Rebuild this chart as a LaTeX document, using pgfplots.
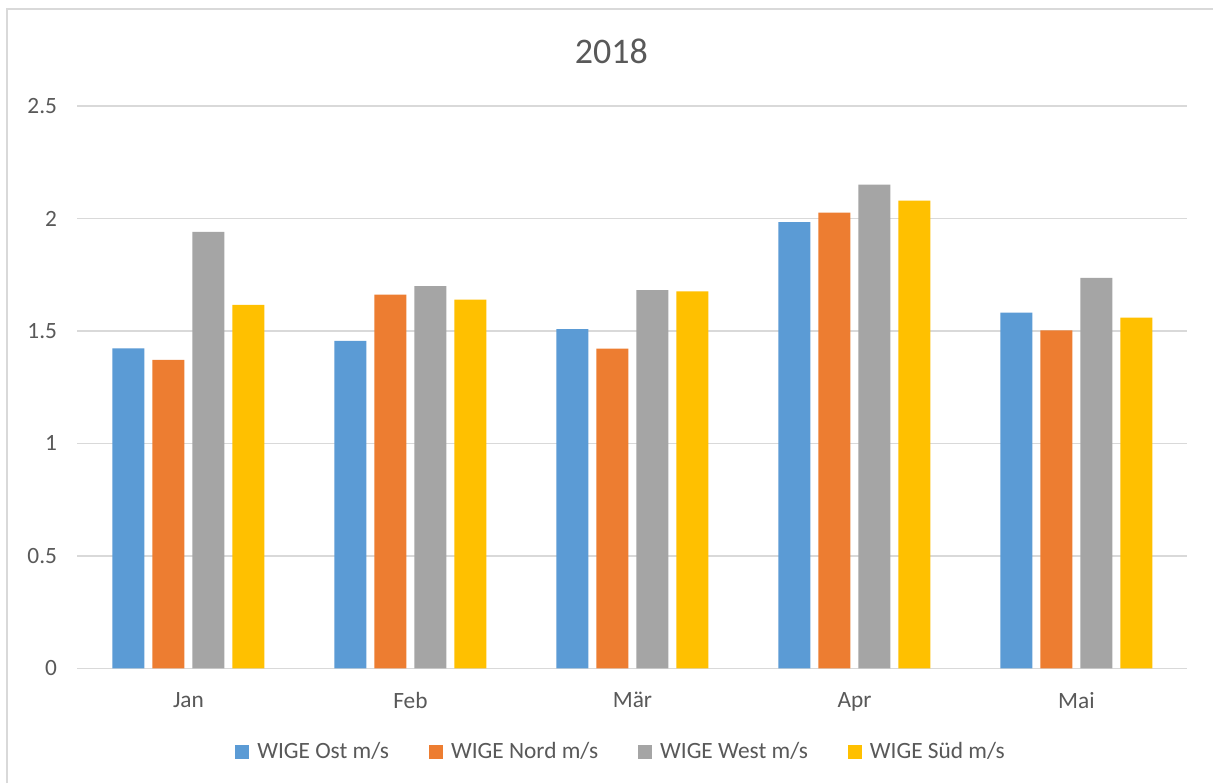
\documentclass[border=0pt]{standalone}
\usepackage{fontspec}
\setmainfont{Carlito}
\usepackage{pgfplots}
\pgfplotsset{compat=1.18}
\definecolor{cOst}{HTML}{5B9BD5}
\definecolor{cNord}{HTML}{ED7D31}
\definecolor{cWest}{HTML}{A5A5A5}
\definecolor{cSued}{HTML}{FFC000}
\definecolor{textc}{HTML}{595959}
\definecolor{gridc}{HTML}{D9D9D9}
\pgfplotsset{sq legend/.style={legend image code/.code={\fill[##1] (0pt,-5.25pt) rectangle (10.5pt,5.25pt);}}}
\begin{document}
\begin{tikzpicture}[x=1pt,y=1pt]
\useasboundingbox (0,0) rectangle (909.75,587.25);
\fill[white] (0,0) rectangle (909.75,587.25);
\draw[line width=1.2pt, color=gridc] (5.25,0) -- (5.25,580.5) -- (909.75,580.5);
\node[text=textc, font=\fontsize{27}{32}\selectfont] at (458.6,548.6) {2018};
\begin{axis}[
  at={(58.1pt,85.9pt)}, anchor=south west,
  scale only axis, width=832.5pt, height=421.9pt,
  xmin=-0.5, xmax=4.5, ymin=0, ymax=2.5,
  axis line style={draw=none},
  major tick length=0pt,
  ybar, bar width=24pt,
  xtick={0,1,2,3,4}, xticklabels={Jan,Feb,Mär,Apr,Mai},
  ytick={0,0.5,1,1.5,2,2.5}, yticklabels={0,0.5,1,1.5,2,2.5},
  ymajorgrids, grid style={color=gridc, line width=1pt},
  tick label style={text=textc, font=\fontsize{17.5}{21}\selectfont},
  y tick label style={anchor=east, xshift=-11.8pt},
  x tick label style={anchor=north, yshift=-14.5pt},
  legend columns=4,
  legend style={at={(0.49,-0.148)}, anchor=center, draw=none, fill=none,
    text=textc, font=\fontsize{17.5}{21}\selectfont,
    /tikz/every odd column/.append style={column sep=4pt},
    /tikz/every even column/.append style={column sep=28pt}},
]
\addplot[fill=cOst, draw=none, bar shift=-45pt, sq legend] coordinates {(0,1.423) (1,1.456) (2,1.508) (3,1.984) (4,1.581)};
\addplot[fill=cNord, draw=none, bar shift=-15pt, sq legend] coordinates {(0,1.371) (1,1.661) (2,1.421) (3,2.026) (4,1.503)};
\addplot[fill=cWest, draw=none, bar shift=15pt, sq legend] coordinates {(0,1.940) (1,1.699) (2,1.681) (3,2.150) (4,1.736)};
\addplot[fill=cSued, draw=none, bar shift=45pt, sq legend] coordinates {(0,1.616) (1,1.639) (2,1.676) (3,2.079) (4,1.559)};
\legend{WIGE Ost m/s, WIGE Nord m/s, WIGE West m/s, WIGE Süd m/s}
\end{axis}
\end{tikzpicture}
\end{document}
